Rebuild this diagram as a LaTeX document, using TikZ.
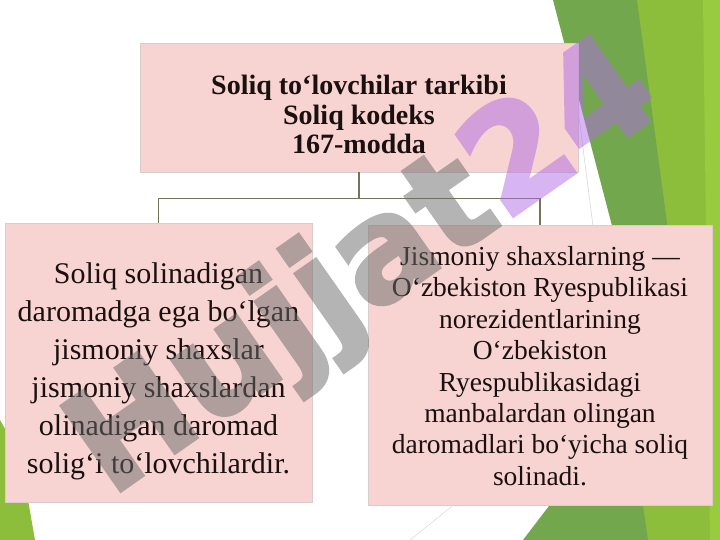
\documentclass[tikz,border=0pt]{standalone}
\usepackage{fontspec}
\setmainfont{Liberation Serif}
\newfontfamily\markfont{DejaVu Sans}[BoldFeatures={FakeBold=2.5}]
\definecolor{boxpink}{HTML}{F7D4D1}
\definecolor{boxline}{HTML}{D8CDCB}
\definecolor{inkdark}{HTML}{1A1010}
\definecolor{linkolive}{HTML}{737558}
\definecolor{leafdark}{HTML}{73A74D}
\definecolor{leaflight}{HTML}{8CBE3B}
\definecolor{leaflime}{HTML}{98CB3E}
\definecolor{markgray}{HTML}{6A6A6A}
\definecolor{markpurple}{HTML}{B06CE6}

\begin{document}
\begin{tikzpicture}[x=1pt,y=-1pt,
  box/.style={draw=boxline,fill=boxpink,line width=0.6pt,inner sep=0pt,text=inkdark,align=center},
  boxtext/.style={text=inkdark,align=center},
  link/.style={draw=linkolive,line width=1.4pt},
  wmark/.style={font=\markfont\bfseries\fontsize{142}{142}\selectfont,rotate=35}]
  \useasboundingbox (0,0) rectangle (720,540);
  \fill[white] (0,0) rectangle (720,540);
  \draw[black!18,line width=0.5pt] (564,0) -- (598,265);
  \draw[black!15,line width=0.5pt] (410,540) -- (456,503);
  \fill[leaflight] (630,0) -- (720,0) -- (720,540) -- (640,540) -- cycle;
  \fill[leaflime] (703,0) -- (720,0) -- (720,540) -- (710,540) -- cycle;
  \fill[leafdark] (553,0) -- (637,0) -- (705,505) -- (685,505) -- cycle;
  \fill[leafdark] (523,540) -- (565,485) -- (640,485) -- (648,540) -- cycle;
  \fill[leaflight] (0,420) -- (20,455) -- (28,500) -- (35,540) -- (0,540) -- cycle;

  \node[box,minimum width=438pt,minimum height=129pt] (head) at (359,107.5) {};
  \node[boxtext,font=\bfseries\fontsize{28}{29.5}\selectfont] (title) at ([yshift=-7pt]head.center)
    {Soliq to‘lovchilar tarkibi\\Soliq kodeks\\167-modda};
  \node[box,minimum width=307pt,minimum height=279pt] (left) at (158.5,362.5) {};
  \node[boxtext,font=\fontsize{30}{38}\selectfont] (lefttext) at ([yshift=-9pt]left.center)
    {Soliq solinadigan\\daromadga ega bo‘lgan\\jismoniy shaxslar\\jismoniy shaxslardan\\olinadigan daromad\\solig‘i to‘lovchilardir.};
  \node[box,minimum width=344pt,minimum height=280pt] (right) at (540,365) {};
  \node[boxtext,font=\fontsize{27.5}{31.4}\selectfont] (righttext) at ([yshift=-1pt]right.center)
    {Jismoniy shaxslarning —\\O‘zbekiston Ryespublikasi\\norezidentlarining\\O‘zbekiston\\Ryespublikasidagi\\manbalardan olingan\\daromadlari bo‘yicha soliq\\solinadi.};

  \draw[link] (head.south) -- ++(0,26) -| (left.north);
  \draw[link] (head.south) -- ++(0,26) -| (right.north);

  \begin{scope}[transparency group,opacity=0.5]
    \node[wmark] (stamp) at (366,272) {\textcolor{markgray}{Hujjat}\textcolor{markpurple}{24}};
  \end{scope}
\end{tikzpicture}
\end{document}
